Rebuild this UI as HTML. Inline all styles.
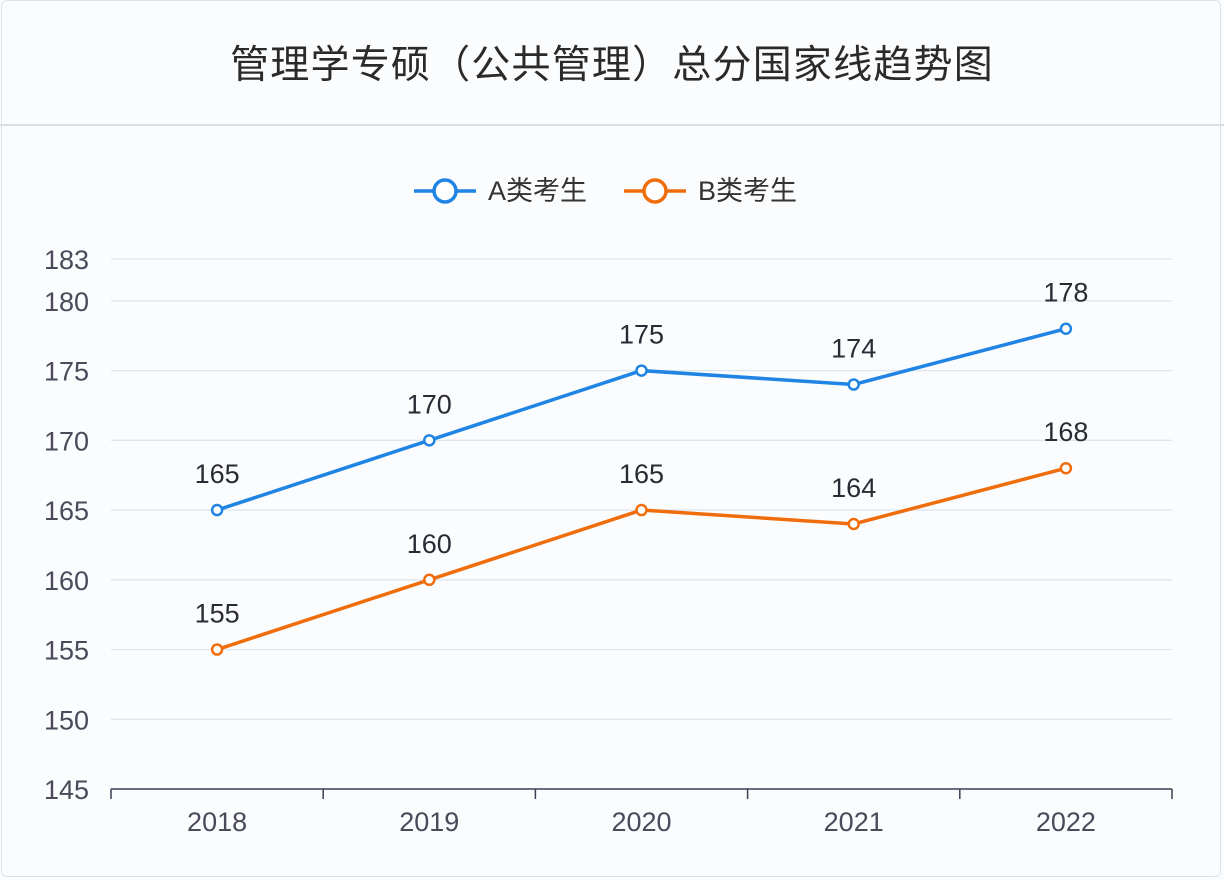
<!DOCTYPE html>
<html><head><meta charset="utf-8"><style>
body{margin:0;width:1224px;height:880px;background:#fbfcfe;overflow:hidden;font-family:"Liberation Sans","Noto Sans CJK SC",sans-serif}
#frame{position:absolute;left:1px;top:0;width:1220px;height:877px;border:1px solid #dde2e8;border-radius:6px;box-sizing:border-box}
#title{position:absolute;left:0;top:0;width:1224px;height:124px;border-bottom:2px solid #dadfe5;text-align:center;line-height:124px;font-size:39px;letter-spacing:1.2px;color:#2a2a2a;font-family:"Noto Sans CJK SC",sans-serif}
</style></head><body>
<div id="frame"></div>
<div id="title">管理学专硕（公共管理）总分国家线趋势图</div>
<svg id="chart" width="1224" height="880" style="position:absolute;left:0;top:0"></svg>
<script>
const categories=["2018","2019","2020","2021","2022"];
const seriesA=[165,170,175,174,178];
const seriesB=[155,160,165,164,168];
const yTicks=[145,150,155,160,165,170,175,180,183];
const seriesNames=["A类考生","B类考生"];
const NS="http://www.w3.org/2000/svg";
const svg=document.getElementById('chart');
const x0=111,x1=1172,yMin=145,yMax=183,py0=789,py1=259;
const band=(x1-x0)/categories.length;
function xs(i){return x0+band*(i+0.5);}
function ys(v){return py0-(v-yMin)/(yMax-yMin)*(py0-py1);}
function mk(t,a,p){const e=document.createElementNS(NS,t);for(const k in a)e.setAttribute(k,a[k]);(p||svg).appendChild(e);return e;}
yTicks.forEach(v=>{
  if(v!==yMin){const g=mk('line',{x1:x0,x2:x1,y1:ys(v),y2:ys(v),stroke:'#dde5ee','stroke-width':1.3});
  
  }
  const t=mk('text',{x:89,y:ys(v)+10,'text-anchor':'end','font-size':27,fill:'#4a4a5a'});
  t.textContent=v;
  
  
});
const ax=mk('line',{x1:x0,x2:x1,y1:py0,y2:py0,stroke:'#3a3f55','stroke-width':1.5});


for(let i=0;i<=categories.length;i++){const tk=mk('line',{x1:x0+band*i,x2:x0+band*i,y1:py0,y2:py0+10,stroke:'#3a3f55','stroke-width':1.5});

}
categories.forEach((c,i)=>{const t=mk('text',{x:xs(i),y:831,'text-anchor':'middle','font-size':27,fill:'#4a4a5a'});t.textContent=c;

});
function drawSeries(vals,color,name){
  const pl=mk('polyline',{points:vals.map((v,i)=>xs(i)+','+ys(v)).join(' '),fill:'none',stroke:color,'stroke-width':3.5});
  
  
  vals.forEach((v,i)=>{
    const c=mk('circle',{cx:xs(i),cy:ys(v),r:5,fill:'#fff',stroke:color,'stroke-width':2.5});
    
    
    const t=mk('text',{x:xs(i),y:ys(v)-27,'text-anchor':'middle','font-size':27,fill:'#2a2a35'});
    t.textContent=v;
    
    
  });
}
drawSeries(seriesA,'#1f84e3','series-a');
drawSeries(seriesB,'#f06d0c','series-b');
[[414,'#1f84e3',seriesNames[0]],[624,'#f06d0c',seriesNames[1]]].forEach(([lx,col,nm],k)=>{
  const g=mk('g',{});
  
  
  mk('line',{x1:lx,x2:lx+62,y1:191,y2:191,stroke:col,'stroke-width':3.5},g);
  mk('circle',{cx:lx+31,cy:191,r:11,fill:'#fff',stroke:col,'stroke-width':3.5},g);
  const t=mk('text',{x:lx+74,y:200,'font-size':27,fill:'#333'},g);t.textContent=nm;
});
</script>
</body></html>
